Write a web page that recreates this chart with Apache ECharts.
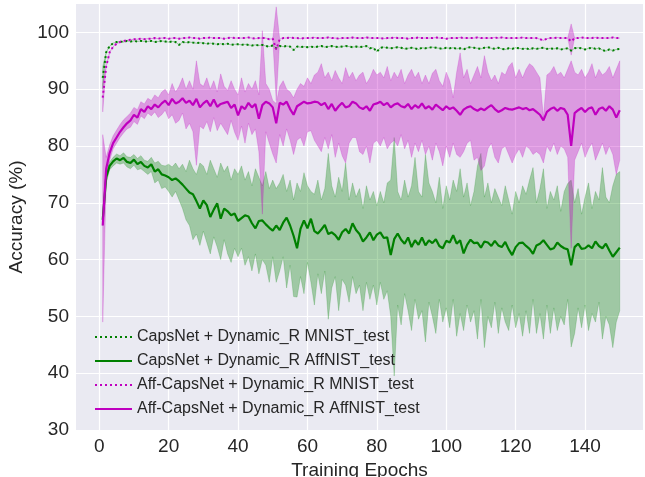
<!DOCTYPE html>
<html>
<head>
<meta charset="utf-8">
<script src="https://cdn.jsdelivr.net/npm/echarts@6/dist/echarts.min.js"></script>
<style>
html, body { margin: 0; padding: 0; background: #fff; }
#chart { width: 645px; height: 477px; }
</style>
</head>
<body>
<div id="chart"></div>
<script>
// tick labels
const xTicks = [0, 20, 40, 60, 80, 100, 120, 140]
const yTicks = [30, 40, 50, 60, 70, 80, 90, 100]

const seriesNames = [
  'CapsNet + Dynamic_R MNIST_test',
  'CapsNet + Dynamic_R AffNIST_test',
  'Aff-CapsNet + Dynamic_R MNIST_test',
  'Aff-CapsNet + Dynamic_R AffNIST_test',
]

// epochs 1..150
const epochs = Array.from({ length: 150 }, (_, i) => i + 1)

// CapsNet MNIST_test (mean)
const capsMnist = [
  92.0, 96.5, 97.6, 98.1, 98.3, 98.4, 98.3, 98.5, 98.4, 98.5,
  98.4, 98.5, 98.4, 98.4, 98.5, 98.3, 98.4, 98.5, 98.4, 98.3,
  98.4, 98.3, 97.8, 98.3, 98.2, 98.3, 98.2, 98.1, 98.2, 98.1,
  98.0, 98.1, 98.0, 97.9, 98.0, 97.9, 98.0, 97.8, 97.9, 97.9,
  97.8, 97.9, 97.8, 97.7, 97.8, 97.7, 97.8, 97.6, 97.5, 97.7,
  97.2, 97.6, 97.5, 97.6, 97.5, 96.9, 97.5, 97.4, 97.5, 97.4,
  97.5, 97.4, 97.5, 97.6, 97.4, 97.5, 97.6, 97.5, 97.4, 97.5,
  97.6, 97.5, 97.4, 97.5, 97.4, 97.5, 97.6, 97.2, 97.3, 96.6,
  97.3, 97.4, 97.3, 97.2, 97.3, 97.4, 97.3, 97.1, 97.2, 97.3,
  97.2, 97.0, 97.3, 97.2, 97.3, 97.4, 97.3, 97.2, 97.1, 97.3,
  97.2, 97.3, 97.1, 97.2, 97.0, 97.3, 97.4, 97.3, 97.2, 97.1,
  97.3, 97.4, 97.2, 97.1, 97.3, 97.1, 97.0, 97.2, 97.1, 97.3,
  97.2, 97.1, 97.2, 97.0, 97.2, 97.1, 97.2, 97.3, 97.1, 97.2,
  97.1, 97.2, 97.0, 97.1, 97.2, 96.8, 97.2, 97.3, 97.2, 97.0,
  97.2, 97.3, 97.1, 97.2, 96.9, 96.7, 97.0, 96.8, 97.0, 97.1,
]

// CapsNet AffNIST_test (mean, min, max)
const capsAff = [
  67.0, 74.5, 76.5, 77.3, 77.8, 77.5, 77.9, 77.2, 77.0, 77.6,
  76.8, 77.2, 76.5, 76.2, 76.8, 75.5, 75.9, 75.0, 74.8, 74.5,
  74.0, 74.3, 73.8, 73.2, 72.5, 71.8, 71.5, 70.3, 69.0, 70.4,
  69.6, 67.5, 68.8, 69.9, 67.2, 69.0, 68.5, 67.8, 68.1, 66.8,
  67.3, 67.8, 67.6, 66.4, 65.5, 66.8, 66.9, 66.2, 65.6, 65.1,
  66.0, 65.2, 66.5, 67.4, 66.0, 64.2, 62.0, 65.4, 66.9, 65.5,
  67.2, 65.0, 64.6, 65.3, 66.1, 64.5, 64.8, 64.3, 63.5, 64.8,
  65.4, 64.6, 66.4, 65.2, 64.5, 63.2, 63.9, 64.8, 63.4, 64.4,
  64.8, 63.8, 63.9, 60.8, 63.6, 64.6, 63.5, 62.8, 63.9, 62.2,
  63.4, 62.6, 63.9, 62.5, 63.4, 62.9, 63.6, 62.4, 62.0, 63.3,
  63.0, 64.3, 62.8, 63.4, 61.1, 62.6, 63.5, 62.9, 63.0, 62.1,
  63.2, 63.0, 62.4, 63.3, 62.5, 62.2, 63.1, 61.8, 60.8, 62.2,
  62.9, 63.0, 62.4, 61.9, 61.0, 62.5, 62.8, 63.4, 62.6, 61.8,
  62.0, 63.0, 62.4, 62.0, 61.8, 59.0, 62.2, 62.8, 61.9, 62.0,
  62.5, 62.0, 63.2, 62.4, 62.0, 62.8, 61.6, 60.5, 61.3, 62.1,
]
const capsAffLo = [
  66.0, 73.5, 75.8, 76.5, 77.0, 76.8, 77.0, 76.3, 76.0, 76.6,
  75.8, 76.0, 75.5, 75.0, 75.5, 73.5, 74.0, 72.5, 72.8, 72.0,
  71.0, 72.0, 70.5, 69.0, 67.0, 66.0, 63.5, 64.5, 62.5, 65.0,
  63.0, 61.0, 64.0, 62.2, 60.0, 63.5, 61.0, 59.5, 62.0, 60.5,
  62.0, 59.0, 60.5, 58.0, 61.0, 57.5, 60.0, 59.0, 56.0, 60.5,
  56.0, 58.0, 60.5, 55.0, 59.0, 53.5, 53.4, 57.0, 54.0, 59.5,
  56.0, 52.0, 57.5, 54.0, 58.0, 49.5, 55.0, 57.0, 51.0, 56.5,
  55.5, 52.5, 57.0, 54.0, 55.5, 51.0, 56.0, 53.0, 55.5, 52.0,
  56.0, 53.0, 54.5, 50.0, 39.5, 52.0, 48.5, 54.0, 51.0, 47.5,
  53.0, 49.5, 51.0, 45.5, 52.5, 50.0, 47.0, 53.0, 49.0, 51.5,
  48.0, 53.0, 46.5, 50.5, 47.5, 52.0, 49.0, 51.0, 46.0, 53.0,
  44.5, 50.0, 48.0, 52.5, 47.0, 51.5, 49.0, 47.5, 52.0, 48.0,
  50.5, 46.5, 51.0, 47.0, 53.0, 47.0, 50.5, 46.0, 52.0, 47.0,
  51.5, 47.5, 50.0, 48.5, 53.0, 44.6, 47.0, 51.5, 48.0, 52.0,
  47.5, 50.5, 49.0, 52.5, 46.0, 50.0, 48.5, 44.5, 49.0, 51.0,
]
const capsAffHi = [
  68.0, 75.5, 77.2, 78.0, 78.6, 78.3, 78.8, 78.1, 78.0, 78.5,
  77.8, 78.3, 77.5, 77.3, 78.0, 77.0, 77.3, 76.6, 76.5, 76.8,
  76.3, 77.0, 76.0, 76.8, 75.5, 77.5, 76.0, 75.0, 77.0, 76.5,
  75.0, 77.5, 76.0, 74.5, 77.0, 75.5, 76.5, 74.0, 76.0, 75.0,
  76.5, 74.0, 75.5, 73.0, 76.0, 74.5, 73.0, 75.5, 72.5, 74.0,
  72.5, 73.5, 75.0, 72.0, 74.0, 70.5, 73.5, 72.0, 75.3, 73.0,
  72.0, 71.5, 74.0, 70.5, 72.5, 78.7, 73.0, 71.0, 74.5, 72.0,
  77.0, 70.5, 73.5, 71.0, 72.5, 69.0, 73.0, 70.5, 72.0, 69.5,
  72.0, 70.0, 73.5, 74.0, 81.5, 72.0, 70.5, 74.0, 71.0, 73.0,
  78.0, 72.0, 71.0, 78.5, 73.5, 72.0, 70.0, 74.5, 69.0, 73.0,
  70.5, 74.0, 72.0, 76.0, 71.0, 73.5, 69.5, 72.0, 76.5, 78.7,
  71.0, 73.5, 70.0, 72.5, 71.0, 69.5, 73.0, 70.5, 68.0, 72.0,
  70.0, 73.0, 71.5, 74.0, 76.2, 70.0, 72.5, 76.0, 69.0, 72.0,
  70.5, 73.0, 68.5, 72.0, 73.4, 74.0, 70.0, 72.5, 68.0, 71.0,
  73.5, 69.0, 72.0, 70.5, 76.2, 71.0, 70.0, 73.0, 75.0, 75.5,
]

// Aff-CapsNet MNIST_test (mean)
const affMnist = [
  88.5, 94.0, 96.5, 97.5, 98.0, 98.3, 98.5, 98.6, 98.7, 98.8,
  98.8, 98.9, 98.8, 98.9, 98.9, 99.0, 98.9, 99.0, 99.0, 98.9,
  99.0, 99.0, 98.9, 99.0, 99.0, 99.1, 99.0, 99.0, 98.9, 99.0,
  99.0, 99.1, 99.0, 99.0, 99.0, 98.9, 99.0, 99.1, 99.0, 99.0,
  99.0, 99.0, 99.1, 99.0, 98.9, 99.0, 99.0, 99.0, 98.8, 98.9,
  97.0, 98.8, 99.0, 99.0, 99.1, 99.0, 99.0, 98.9, 99.0, 99.0,
  99.0, 99.1, 99.0, 99.0, 99.0, 99.1, 99.0, 99.0, 98.9, 99.0,
  99.0, 99.0, 99.1, 99.0, 99.0, 99.0, 99.1, 99.0, 99.0, 99.0,
  99.0, 98.9, 99.0, 99.0, 99.1, 99.0, 99.0, 99.0, 98.9, 99.0,
  99.0, 99.1, 99.0, 99.0, 99.0, 99.0, 99.1, 99.0, 99.0, 98.9,
  99.0, 99.0, 99.0, 99.1, 99.0, 99.0, 99.0, 99.0, 99.1, 99.0,
  99.0, 99.0, 99.0, 99.1, 99.0, 99.1, 99.0, 99.0, 99.0, 99.0,
  99.0, 99.1, 99.0, 99.0, 99.0, 99.0, 98.8, 98.6, 98.9, 99.0,
  99.0, 99.1, 99.0, 99.0, 99.0, 98.4, 99.0, 99.0, 99.1, 99.0,
  99.0, 99.0, 99.1, 99.0, 99.0, 99.0, 99.0, 99.1, 99.0, 99.0,
]

// Aff-CapsNet AffNIST_test (mean, min, max)
const affAff = [
  66.0, 76.0, 78.8, 80.5, 81.5, 82.5, 83.3, 84.0, 84.5, 85.5,
  85.0, 86.5, 86.0, 87.0, 86.5, 87.3, 86.8, 87.5, 88.0, 87.2,
  88.3, 87.5, 87.8, 88.4, 87.6, 88.0, 87.2, 88.3, 86.8, 87.5,
  88.0, 87.0, 88.2, 86.9, 87.4, 87.6, 87.8, 86.7, 87.3, 85.4,
  87.0, 86.5, 87.6, 86.8, 87.4, 84.8, 87.2, 87.8, 87.5, 86.8,
  84.0, 87.6, 87.3, 87.8, 86.5, 85.5, 87.0, 87.4, 87.8, 87.5,
  87.6, 87.8, 87.7, 87.2, 87.6, 86.5, 87.4, 86.2, 87.0, 87.6,
  86.8, 87.0, 87.8, 87.5, 86.8, 86.5, 87.0, 86.2, 87.3, 87.5,
  87.8, 87.2, 87.6, 86.8, 87.3, 87.5, 87.0, 86.8, 87.4, 86.5,
  87.2, 86.7, 87.5, 86.6, 87.0, 86.4, 87.3, 86.8, 86.3, 87.0,
  86.5, 86.8, 86.2, 85.5, 86.4, 86.8, 87.0, 86.5, 86.2, 86.6,
  86.3, 86.8, 87.2, 86.5, 86.0, 86.3, 86.7, 86.5, 86.4, 86.6,
  86.8, 86.5, 86.7, 86.3, 86.5, 86.0, 85.5, 84.5, 86.0, 86.5,
  86.8, 86.2, 86.7, 86.5, 85.5, 80.0, 85.8, 86.3, 86.7, 86.0,
  86.6, 86.8, 85.5, 86.5, 86.8, 86.2, 87.0, 86.4, 85.0, 86.3,
]
const affAffLo = [
  49.0, 74.0, 77.5, 79.5, 80.5, 81.5, 82.3, 83.0, 83.3, 84.3,
  83.8, 85.3, 84.8, 85.8, 85.3, 86.0, 85.0, 85.5, 86.3, 84.8,
  85.5, 84.0, 84.5, 85.8, 83.0, 84.0, 82.5, 76.6, 83.5, 83.0,
  84.3, 82.5, 85.0, 82.7, 84.0, 83.0, 82.0, 84.5, 82.4, 81.0,
  83.5, 80.5, 84.0, 82.0, 83.0, 79.0, 68.0, 82.5, 80.5, 78.6,
  77.0, 82.0, 80.0, 83.0, 81.0, 78.5, 81.0, 81.5, 80.0, 82.5,
  82.7, 81.0, 80.0, 79.0, 81.5, 79.5, 82.0, 78.0, 80.5, 78.3,
  77.0, 80.5, 81.5, 81.5, 79.0, 78.5, 80.0, 77.0, 80.5, 81.0,
  80.0, 81.5, 79.5, 80.5, 81.0, 80.0, 82.0, 79.5, 81.0, 78.0,
  80.5, 79.0, 81.0, 78.5, 80.0, 77.5, 80.5, 79.0, 76.5, 80.0,
  78.0, 80.5, 78.5, 78.0, 79.0, 80.5, 81.0, 77.5, 78.0, 75.7,
  76.5, 79.5, 80.5, 78.0, 77.0, 79.5, 80.0, 78.5, 77.0, 78.5,
  79.5, 78.0, 80.0, 79.5, 78.5, 79.0, 78.5, 77.0, 80.0, 79.0,
  80.5, 78.5, 80.0, 79.5, 78.0, 62.0, 77.5, 79.0, 80.5, 78.0,
  79.5, 80.5, 77.5, 79.0, 80.5, 78.5, 80.0, 78.5, 75.0, 77.5,
]
const affAffHi = [
  82.0, 78.0, 80.2, 81.8, 82.8, 83.8, 84.6, 85.2, 85.8, 86.8,
  86.4, 87.8, 87.4, 88.4, 88.0, 89.0, 88.5, 89.5, 90.0, 89.0,
  91.0, 89.5, 90.5, 92.0, 90.0, 91.5, 90.0, 95.0, 91.0, 90.5,
  92.0, 90.0, 91.5, 89.5, 92.7, 90.5, 89.8, 91.5, 90.0, 89.0,
  92.0, 89.5, 91.0, 90.0, 91.5, 89.0, 100.3, 91.0, 90.0, 88.0,
  87.5, 90.5, 91.5, 90.0, 89.5, 88.5, 90.0, 91.0, 90.5, 92.0,
  91.0, 92.5, 93.0, 94.5, 92.0, 93.0, 91.5, 93.3, 92.0, 91.0,
  93.8, 92.0, 93.0, 91.5, 92.5, 93.0, 91.0, 92.0, 93.5, 92.5,
  93.0, 92.0, 94.0, 91.5, 93.0, 92.0, 93.5, 91.0, 92.5, 93.5,
  92.0, 93.0, 91.0, 92.5, 91.0, 92.8, 93.5, 91.5, 90.5, 93.0,
  91.5, 88.5, 93.0, 96.4, 92.0, 93.5, 91.0, 92.5, 94.0, 92.0,
  95.9, 93.0, 91.5, 92.5, 91.0, 93.0, 92.5, 94.0, 94.7, 92.0,
  93.5, 92.0, 93.5, 94.5, 94.0, 93.0, 92.0, 85.0, 92.5, 93.0,
  94.0, 92.5, 93.0, 92.0, 93.5, 95.0, 93.0, 92.5, 93.5, 92.0,
  93.0, 94.5, 92.0, 93.5, 92.5, 93.0, 94.0, 92.0, 93.5, 95.0,
]

// spread of the MNIST runs: only visible at a few epochs
const capsMnistSpreadEpochs = [1]
const capsMnistSpreadLo = [90.0]
const capsMnistSpreadHi = [94.0]
const affMnistSpreadEpochs = [1, 51, 136]
const affMnistSpreadLo = [86.0, 88.0, 96.0]
const affMnistSpreadHi = [91.0, 104.5, 101.5]

const GREEN = '#008000'
const MAGENTA = '#bf00bf'
const GREEN_FILL = 'rgba(0, 128, 0, 0.32)'
const MAGENTA_FILL = 'rgba(191, 0, 191, 0.34)'
const FONT = '"Liberation Sans", Arial, sans-serif'

function pairs(vals) {
  return vals.map((v, i) => [epochs[i], v])
}

function spreadArrays(mean, ep, lo, hi) {
  const l = mean.slice()
  const h = mean.slice()
  ep.forEach((e, k) => {
    l[e - 1] = lo[k]
    h[e - 1] = hi[k]
  })
  return [l, h]
}

// filled min/max band, one polygon placed through the axis scales
function bandSeries(id, lo, hi, fill) {
  return {
    name: id,
    type: 'custom',
    silent: true,
    data: epochs.map((e, i) => [e, lo[i], hi[i]]),
    renderItem(params, api) {
      if (params.dataIndex !== 0) return null
      const top = epochs.map((e, i) => api.coord([e, hi[i]]))
      const bottom = epochs.map((e, i) => api.coord([e, lo[i]])).reverse()
      return {
        type: 'polygon',
        shape: { points: top.concat(bottom) },
        style: { fill, stroke: fill, lineWidth: 0.6 },
      }
    },
    encode: { x: 0, y: [1, 2] },
  }
}

function lineSeries(name, vals, color, dotted) {
  return {
    name,
    type: 'line',
    symbol: 'none',
    data: pairs(vals),
    lineStyle: { color, width: dotted ? 2 : 2.2, type: dotted ? [2, 3] : 'solid' },
    itemStyle: { color },
  }
}

const [cmLo, cmHi] = spreadArrays(capsMnist, capsMnistSpreadEpochs, capsMnistSpreadLo, capsMnistSpreadHi)
const [amLo, amHi] = spreadArrays(affMnist, affMnistSpreadEpochs, affMnistSpreadLo, affMnistSpreadHi)

const chart = echarts.init(document.getElementById('chart'), null, { renderer: 'canvas' })

chart.setOption({
  animation: false,
  backgroundColor: '#ffffff',
  grid: {
    left: 76, right: 2, top: 4, bottom: 47,
    containLabel: false,
    outerBoundsMode: 'none',
    show: true, backgroundColor: '#eaeaf2', borderWidth: 0,
  },
  legend: {
    orient: 'vertical',
    left: 89,
    top: 324,
    data: seriesNames,
    itemWidth: 37,
    itemHeight: 14,
    itemGap: 8,
    itemStyle: { opacity: 0 },
    textStyle: { fontFamily: FONT, fontSize: 16, color: '#262626' },
  },
  xAxis: {
    type: 'value',
    min: -6.7,
    max: 156.7,
    name: 'Training Epochs',
    nameLocation: 'middle',
    nameGap: 28,
    nameTextStyle: { fontFamily: FONT, fontSize: 19, color: '#262626' },
    axisLine: { show: false },
    axisTick: { show: false, customValues: xTicks },
    axisLabel: { customValues: xTicks, fontFamily: FONT, fontSize: 19, color: '#262626', margin: 7 },
    splitLine: { show: true, lineStyle: { color: '#ffffff', width: 1.2 } },
  },
  yAxis: {
    type: 'value',
    min: 30,
    max: 105,
    name: 'Accuracy (%)',
    nameLocation: 'middle',
    nameGap: 47,
    nameTextStyle: { fontFamily: FONT, fontSize: 19, color: '#262626' },
    axisLine: { show: false },
    axisTick: { show: false, customValues: yTicks },
    axisLabel: { customValues: yTicks, fontFamily: FONT, fontSize: 19, color: '#262626', margin: 7 },
    splitLine: { show: true, lineStyle: { color: '#ffffff', width: 1.2 } },
  },
  series: [
    bandSeries('capsAffBand', capsAffLo, capsAffHi, GREEN_FILL),
    bandSeries('capsMnistBand', cmLo, cmHi, GREEN_FILL),
    lineSeries(seriesNames[0], capsMnist, GREEN, true),
    lineSeries(seriesNames[1], capsAff, GREEN, false),
    bandSeries('affAffBand', affAffLo, affAffHi, MAGENTA_FILL),
    bandSeries('affMnistBand', amLo, amHi, MAGENTA_FILL),
    lineSeries(seriesNames[2], affMnist, MAGENTA, true),
    lineSeries(seriesNames[3], affAff, MAGENTA, false),
  ],
})
</script>
</body>
</html>
